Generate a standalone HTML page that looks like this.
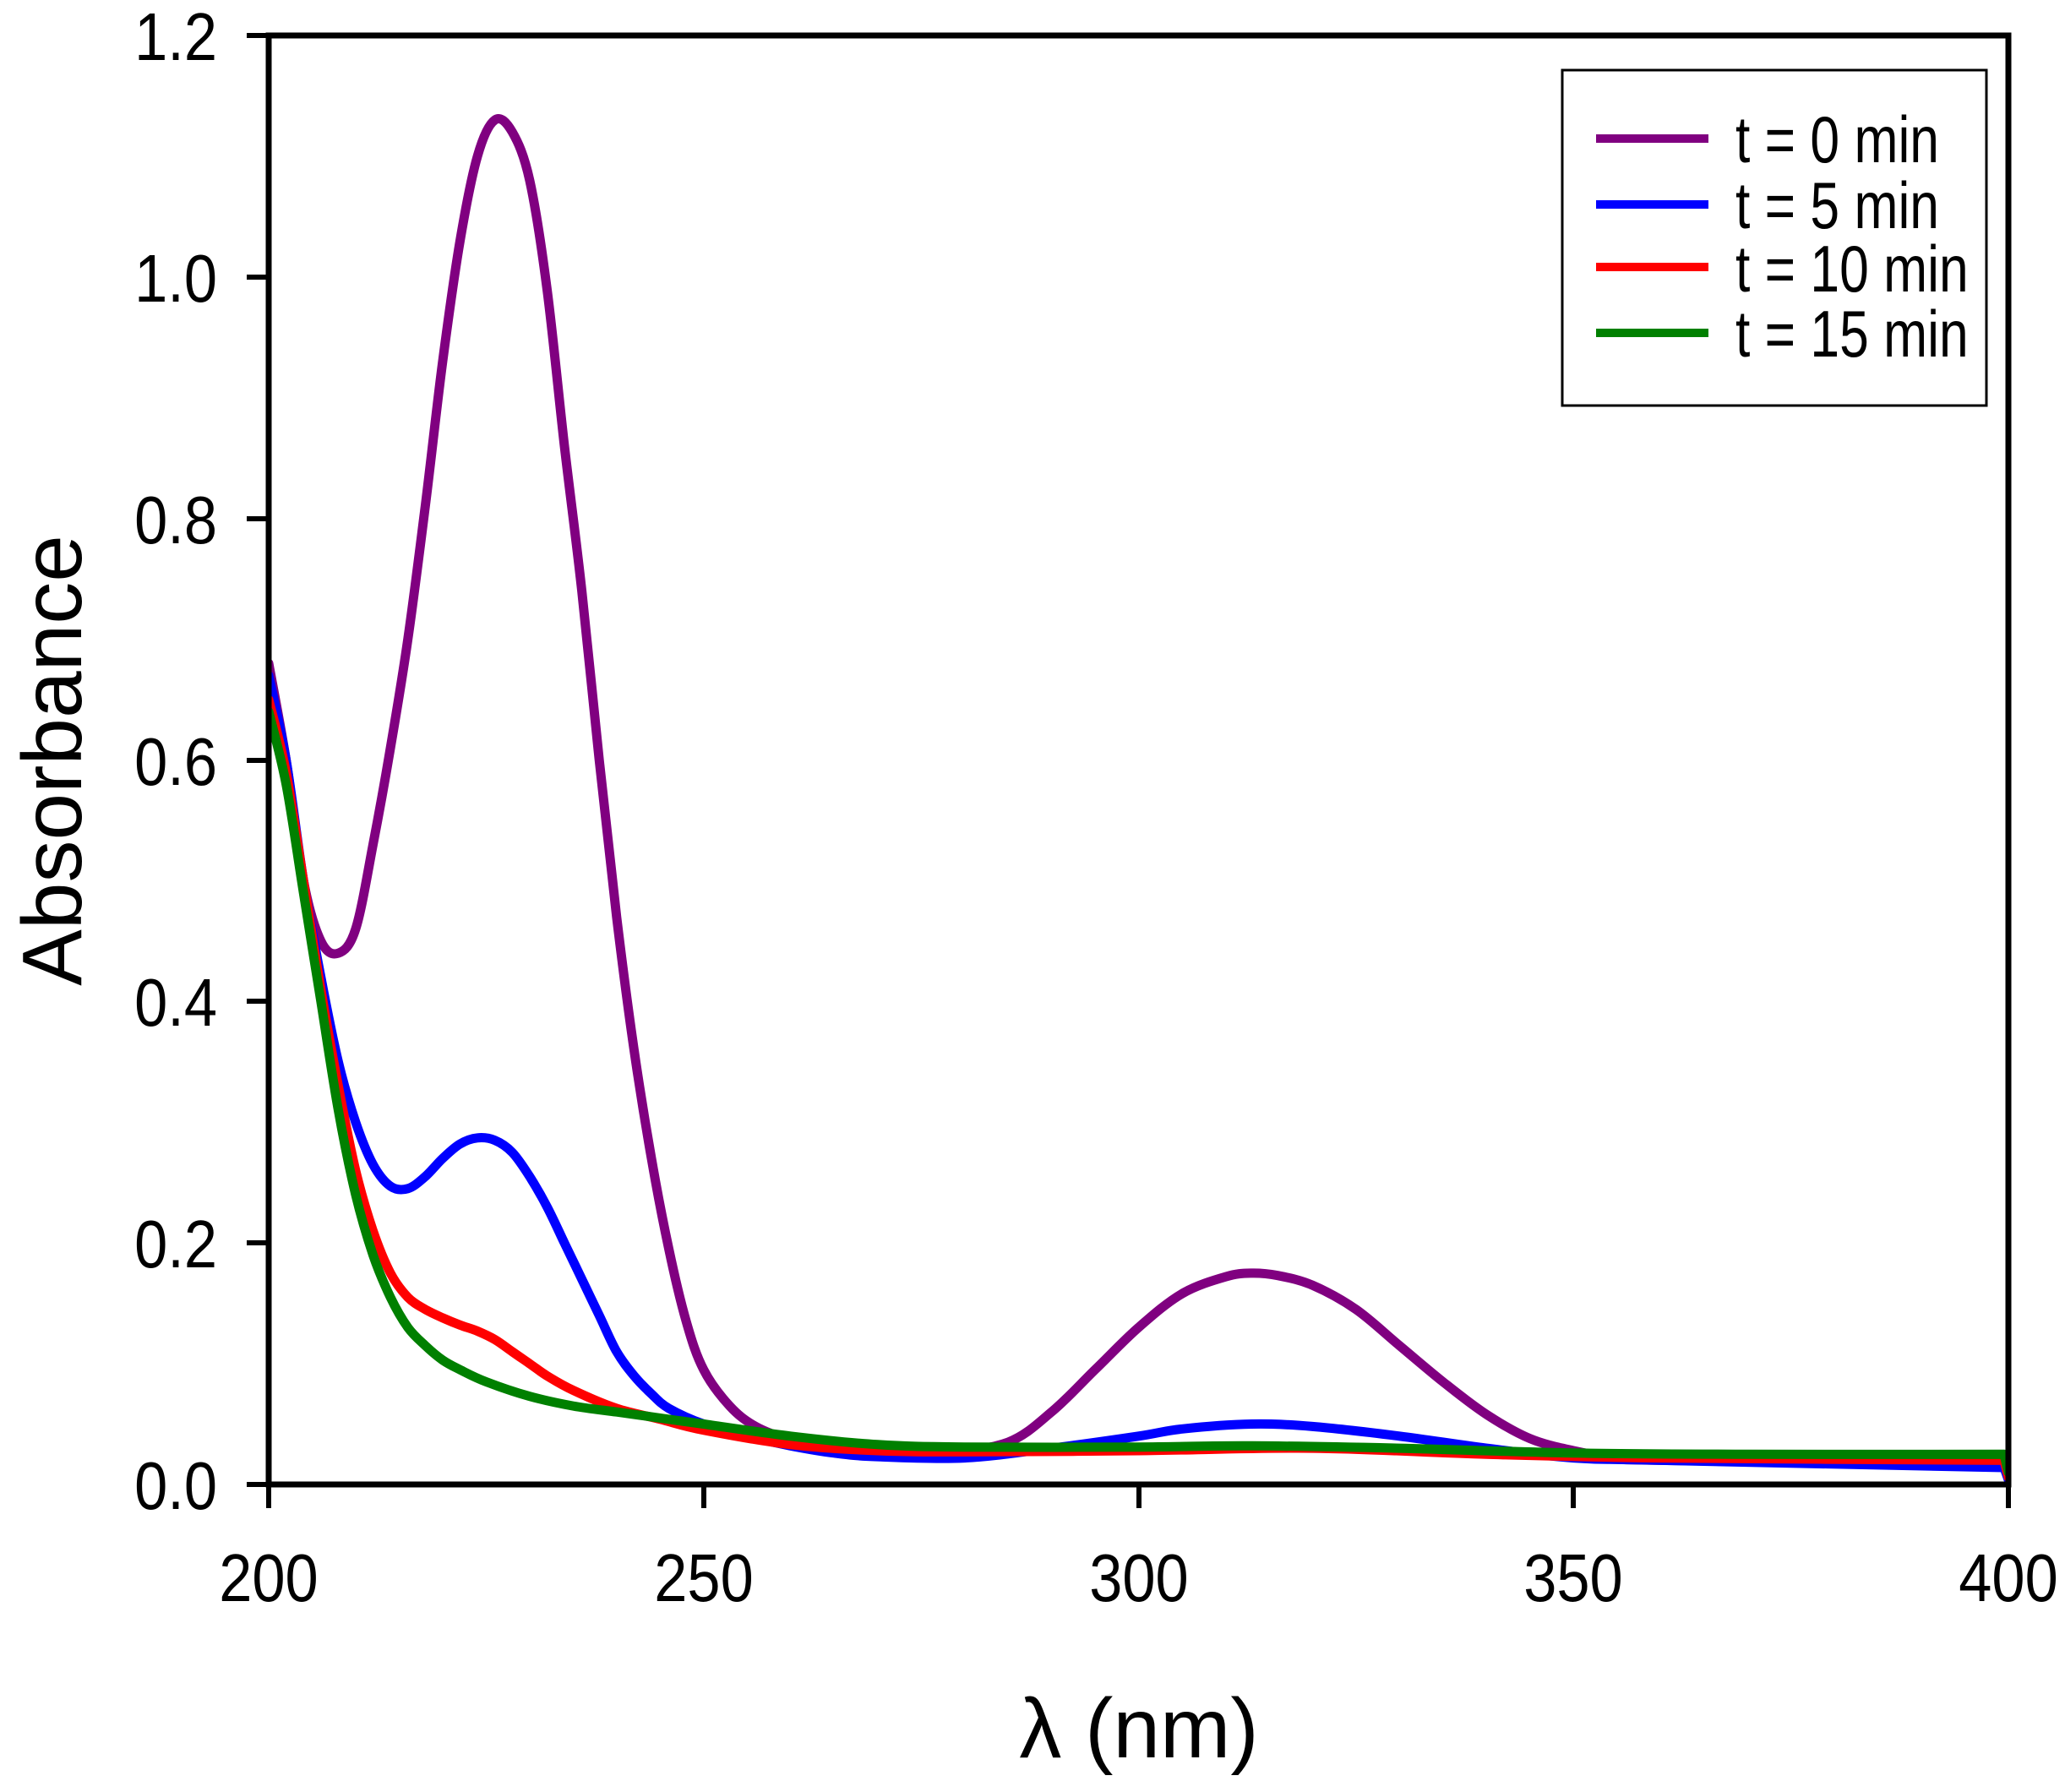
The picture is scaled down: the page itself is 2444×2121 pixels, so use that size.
<!DOCTYPE html>
<html><head><meta charset="utf-8"><style>
html,body{margin:0;padding:0;background:#fff;}
svg{display:block;}
text{font-family:"Liberation Sans",Arial,sans-serif;fill:#000;}
</style></head><body>
<svg id="s" width="2444" height="2121" viewBox="0 0 2444 2121" xmlns="http://www.w3.org/2000/svg">
<defs><clipPath id="cp"><rect x="318" y="42" width="2059" height="1715"/></clipPath></defs>
<rect width="2444" height="2121" fill="#fff"/>
<g id="curves" fill="none" stroke-width="11" stroke-linejoin="round" stroke-linecap="round" clip-path="url(#cp)"></g>
<rect x="318" y="42" width="2059" height="1715" fill="none" stroke="#000" stroke-width="7"/>
<g stroke="#000" stroke-width="6">
<line x1="292" y1="1757" x2="318" y2="1757"/><line x1="292" y1="1471" x2="318" y2="1471"/>
<line x1="292" y1="1185" x2="318" y2="1185"/><line x1="292" y1="900" x2="318" y2="900"/>
<line x1="292" y1="614" x2="318" y2="614"/><line x1="292" y1="328" x2="318" y2="328"/>
<line x1="292" y1="42" x2="318" y2="42"/>
<line x1="318" y1="1757" x2="318" y2="1785"/><line x1="833" y1="1757" x2="833" y2="1785"/>
<line x1="1348" y1="1757" x2="1348" y2="1785"/><line x1="1862" y1="1757" x2="1862" y2="1785"/>
<line x1="2377" y1="1757" x2="2377" y2="1785"/>
</g>
<g font-size="80" text-anchor="end">
<text x="257" y="1786" transform="translate(257 0) scale(0.88 1) translate(-257 0)">0.0</text>
<text x="257" y="1500" transform="translate(257 0) scale(0.88 1) translate(-257 0)">0.2</text>
<text x="257" y="1214" transform="translate(257 0) scale(0.88 1) translate(-257 0)">0.4</text>
<text x="257" y="929" transform="translate(257 0) scale(0.88 1) translate(-257 0)">0.6</text>
<text x="257" y="643" transform="translate(257 0) scale(0.88 1) translate(-257 0)">0.8</text>
<text x="257" y="357" transform="translate(257 0) scale(0.88 1) translate(-257 0)">1.0</text>
<text x="257" y="71" transform="translate(257 0) scale(0.88 1) translate(-257 0)">1.2</text>
</g>
<g font-size="80" text-anchor="middle">
<text x="318" y="1895" transform="translate(318 0) scale(0.88 1) translate(-318 0)">200</text>
<text x="833" y="1895" transform="translate(833 0) scale(0.88 1) translate(-833 0)">250</text>
<text x="1348" y="1895" transform="translate(1348 0) scale(0.88 1) translate(-1348 0)">300</text>
<text x="1862" y="1895" transform="translate(1862 0) scale(0.88 1) translate(-1862 0)">350</text>
<text x="2377" y="1895" transform="translate(2377 0) scale(0.88 1) translate(-2377 0)">400</text>
</g>
<text x="1348" y="2080" font-size="100" text-anchor="middle">λ (nm)</text>
<text transform="translate(96 900) rotate(-90)" font-size="100" text-anchor="middle">Absorbance</text>
<rect x="1849" y="83" width="502" height="397" fill="#fff" stroke="#000" stroke-width="3"/>
<g stroke-width="10">
<line x1="1889" y1="164" x2="2022" y2="164" stroke="#800080"/>
<line x1="1889" y1="242" x2="2022" y2="242" stroke="#0000ff"/>
<line x1="1889" y1="316" x2="2022" y2="316" stroke="#ff0000"/>
<line x1="1889" y1="394" x2="2022" y2="394" stroke="#008000"/>
</g>
<g font-size="78" transform="translate(2054 0) scale(0.8 1) translate(-2054 0)">
<text x="2054" y="192">t = 0 min</text>
<text x="2054" y="270">t = 5 min</text>
<text x="2054" y="345">t = 10 min</text>
<text x="2054" y="422">t = 15 min</text>
</g>
</svg>
<script>
const X=l=>318+(l-200)*2059/200, Y=a=>1757-a*1429.2;
const D={
"#800080":[[200,.68],[202,.6],[204,.5],[206,.45],[208,.44],[210,.46],[212,.53],[214,.61],[216,.70],[218,.81],[220,.93],[222,1.03],[224,1.10],[226,1.13],[228,1.12],[230,1.08],[232,0.99],[234,0.86],[236,0.74],[238,0.6],[240,0.47],[242,0.36],[244,0.27],[246,0.195],[248,0.135],[250,0.095],[253,0.065],[256,0.048],[260,0.037],[265,0.03],[270,0.028],[278,0.027],[285,0.035],[290,0.06],[295,0.095],[300,0.13],[305,0.158],[310,0.172],[313,0.175],[316,0.173],[320,0.165],[325,0.145],[330,0.115],[335,0.085],[340,0.058],[345,0.038],[350,0.028],[355,0.022],[360,0.02],[399.5,0.016],[400,0.004]],
"#0000ff":[[200,.67],[202,.6],[204,.5],[206,.42],[208,.35],[210,.3],[212,.265],[214,.247],[216,.245],[218,.255],[220,.27],[222,.282],[224,.287],[226,.285],[228,.275],[230,.255],[232,.23],[234,.2],[236,.17],[238,.14],[240,.11],[242,.09],[244,.075],[246,.063],[250,.05],[255,.04],[260,.032],[265,.026],[270,.023],[280,.022],[290,.03],[300,.04],[305,.046],[313,.05],[320,.048],[330,.04],[340,.03],[350,.022],[360,.02],[399.5,.014],[400,.004]],
"#ff0000":[[200,.65],[202,.59],[204,.5],[206,.41],[208,.33],[210,.26],[212,.21],[214,.175],[216,.155],[218,.145],[220,.138],[222,.132],[224,.127],[226,.12],[228,.11],[230,.1],[232,.09],[235,.078],[240,.063],[245,.054],[250,.045],[260,.033],[270,.028],[280,.027],[300,.028],[320,.03],[340,.025],[360,.022],[399.5,.02],[400,.006]],
"#008000":[[200,.64],[202,.58],[204,.49],[206,.4],[208,.31],[210,.24],[212,.19],[214,.155],[216,.13],[218,.115],[220,.103],[222,.095],[225,.085],[230,.073],[235,.065],[240,.06],[245,.055],[250,.05],[260,.04],[270,.033],[280,.031],[300,.031],[313,.032],[330,.03],[350,.026],[370,.025],[399.5,.025],[400,.01]]};
const g=document.getElementById('curves');
for(const c in D){const p=D[c].map(([l,a])=>[X(l),Y(a)]);const n=p.length-1;let d='M'+p[0][0].toFixed(1)+' '+p[0][1].toFixed(1);
for(let i=0;i<n-1;i++){const p0=p[Math.max(i-1,0)],p1=p[i],p2=p[i+1],p3=p[Math.min(i+2,n-1)];
const c1=[p1[0]+(p2[0]-p0[0])/6,p1[1]+(p2[1]-p0[1])/6],c2=[p2[0]-(p3[0]-p1[0])/6,p2[1]-(p3[1]-p1[1])/6];
d+=`C${c1[0].toFixed(1)} ${c1[1].toFixed(1)} ${c2[0].toFixed(1)} ${c2[1].toFixed(1)} ${p2[0].toFixed(1)} ${p2[1].toFixed(1)}`;}
d+=`L${p[n][0].toFixed(1)} ${p[n][1].toFixed(1)}`;
const e=document.createElementNS('http://www.w3.org/2000/svg','path');e.setAttribute('d',d);e.setAttribute('stroke',c);g.appendChild(e);}
</script>
</body></html>
